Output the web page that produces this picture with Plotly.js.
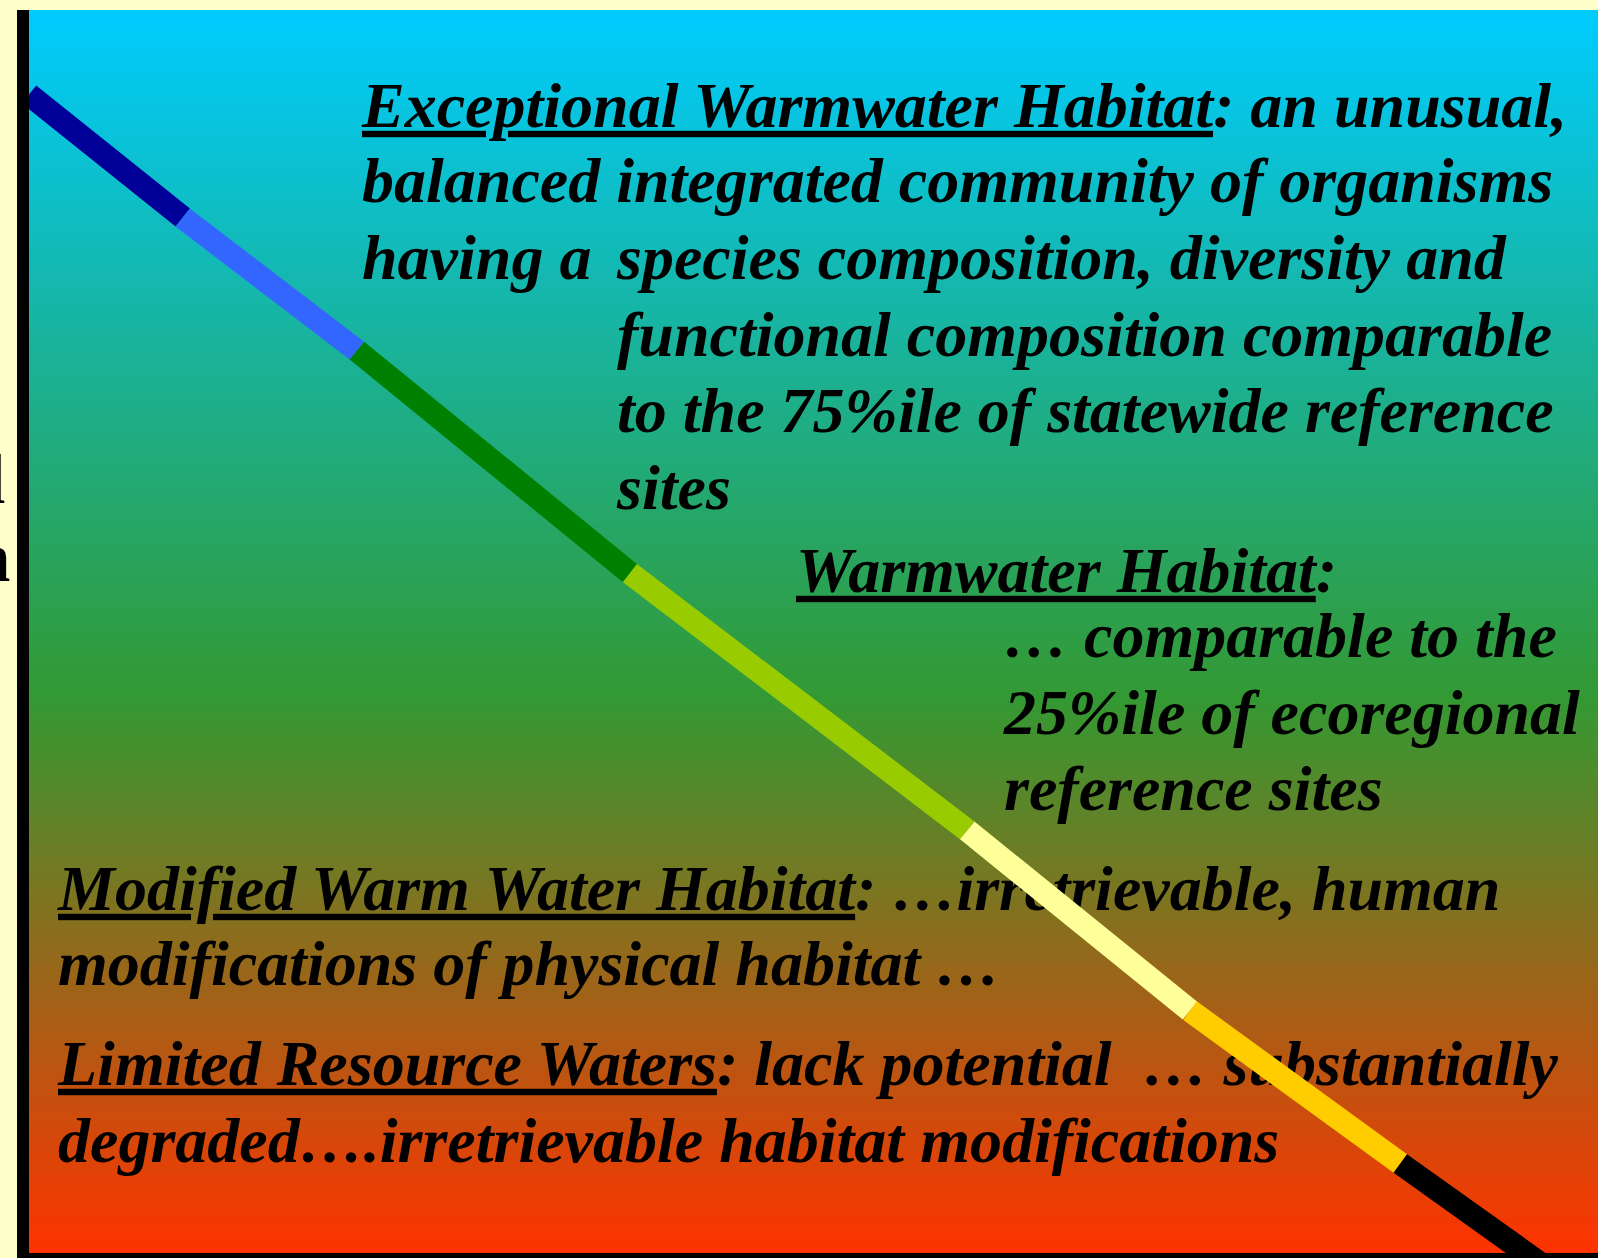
<!DOCTYPE html>
<html>
<head>
<meta charset="utf-8">
<script src="https://cdn.plot.ly/plotly-3.0.1.min.js"></script>
<style>html,body{margin:0;padding:0;background:#FFFFCC;}#chart{width:1598px;height:1258px;}</style>
</head>
<body>
<div id="chart"></div>
<script>
// ---- data ----
const lineX = [0, 9.8, 20.9, 38.3, 59.8, 74.0, 87.4, 96.5];
const lineY = [93.2, 83.3, 72.6, 54.7, 34.0, 19.5, 7.2, -1];
const segmentColors = ['#000099', '#3366FF', '#008000', '#99CC00', '#FFFF99', '#FFCC00', '#000000'];

const gradientStops = [[0, '#FF3300'], [0.447, '#339933'], [1, '#00CCFF']];

const textLines = [
  '<u>Exceptional Warmwater Habitat</u>: an unusual,',
  'balanced integrated community of organisms',
  'having a',
  'species composition, diversity and',
  'functional composition comparable',
  'to the 75%ile of statewide reference',
  'sites',
  '<u>Warmwater Habitat</u>:',
  '\u2026 comparable to the',
  '25%ile of ecoregional',
  'reference sites',
  '<u>Modified Warm Water Habitat</u>: \u2026irretrievable, human',
  'modifications of physical habitat \u2026',
  '<u>Limited Resource Waters</u>: lack potential \u00a0\u2026 substantially',
  'degraded\u2026.irretrievable habitat modifications'
];
const textLeftPx = [362, 362, 362, 617, 617, 617, 617, 796, 1004, 1004, 1004, 58, 58, 58, 58];
const textBaselinePx = [130, 205, 282, 282, 359, 435, 512, 595, 660, 737, 813, 913, 988, 1088, 1165];

const axisLabelLines = ['Biological', 'Condition'];

// ---- layout geometry ----
const W = 1598, H = 1258;
const M = {l: 29, r: 0, t: 10, b: 5};
const PW = W - M.l - M.r, PH = H - M.t - M.b;
const FS = 64;
const toX = px => (px - M.l) / PW * 100;
const toY = py => (H - M.b - py) / PH * 100;

// background gradient (heatmap)
const gy = [], gz = [];
for (let v = 0; v <= 100.0001; v += 0.2) { gy.push(v); gz.push([v, v]); }

const traces = [{
  type: 'heatmap', x: [0, 100], y: gy, z: gz, zmin: 0, zmax: 100,
  colorscale: gradientStops, showscale: false, hoverinfo: 'skip', zsmooth: false
}, {
  type: 'scatter', mode: 'text',
  x: textLeftPx.map(toX),
  y: textBaselinePx.map(b => toY(b - 0.3 * FS)),
  text: textLines, textposition: 'middle right',
  textfont: {family: 'Liberation Serif', size: FS, color: '#000', weight: 'bold', style: 'italic'},
  hoverinfo: 'skip', showlegend: false
}];
for (let i = 0; i < segmentColors.length; i++) {
  traces.push({
    type: 'scatter', mode: 'lines',
    x: [lineX[i], lineX[i + 1]], y: [lineY[i], lineY[i + 1]],
    line: {color: segmentColors[i], width: 23}, hoverinfo: 'skip', showlegend: false
  });
}

const axisLabelBaselines = [497, 575];
const axisLabelRight = [8, 13];
const annotations = axisLabelLines.map((t, i) => ({
  text: '<b>' + t + '</b>', xref: 'paper', yref: 'paper',
  x: (axisLabelRight[i] - M.l) / PW, y: (H - M.b - (axisLabelBaselines[i] - 0.25 * 70)) / PH,
  xanchor: 'right', yanchor: 'middle', showarrow: false,
  font: {family: 'Liberation Serif', size: 70, color: '#000'}
}));

const layout = {
  width: W, height: H,
  margin: M,
  paper_bgcolor: '#FFFFCC', plot_bgcolor: '#FFFFCC',
  showlegend: false,
  xaxis: {range: [0, 100], showgrid: false, zeroline: false, showticklabels: false, ticks: '',
          showline: true, linewidth: 12, linecolor: '#000', fixedrange: true},
  yaxis: {range: [0, 100], showgrid: false, zeroline: false, showticklabels: false, ticks: '',
          showline: true, linewidth: 12, linecolor: '#000', fixedrange: true},
  annotations: annotations
};

Plotly.newPlot('chart', traces, layout, {displayModeBar: false, staticPlot: true});
</script>
</body>
</html>
